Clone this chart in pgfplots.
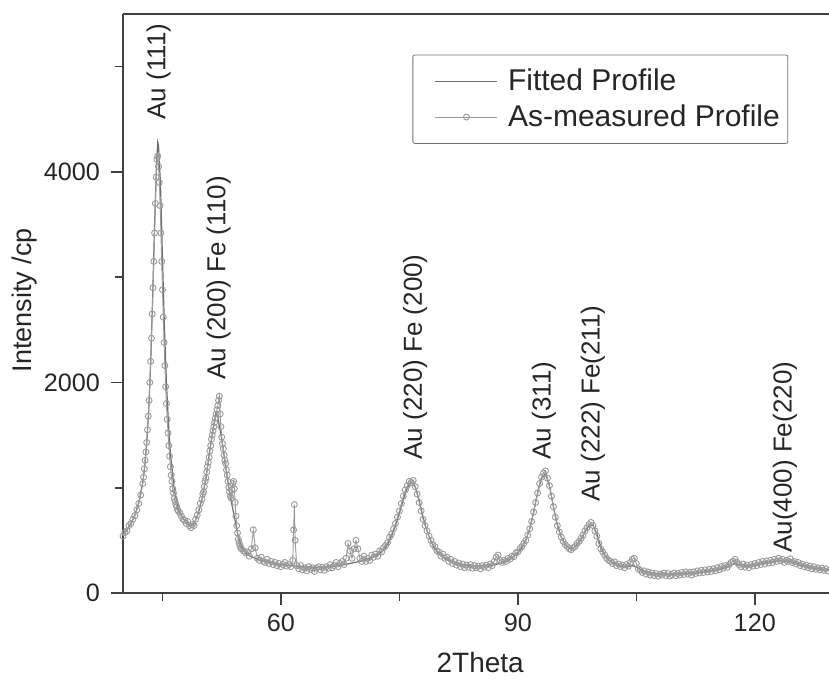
\documentclass[border=0pt]{standalone}
\usepackage{pgfplots}
\pgfplotsset{compat=1.18}
\usepackage{fontspec}
\setmainfont{Liberation Sans}
\definecolor{txt}{HTML}{262626}
\definecolor{meas}{HTML}{9A9A9A}
\definecolor{fitc}{HTML}{6E6E6E}
\begin{document}
\begin{tikzpicture}
\begin{axis}[name=ax,
  scale only axis, width=353pt, height=289.5pt,
  xmin=40, xmax=129.4, ymin=0, ymax=5500,
  axis x line*=box, axis y line*=left,
  axis line style={black!75, line width=0.8pt},
  xtick={60,90,120}, minor xtick={45,75,105},
  ytick={0,2000,4000}, minor ytick={1000,3000,5000},
  xtick pos=left, ytick pos=left,
  tick align=outside,
  major tick length=6pt, minor tick length=4pt,
  tick style={black!75, line width=0.8pt},
  /pgf/number format/assume math mode=true,
  /pgf/number format/1000 sep={},
  ticklabel style={font=\fontsize{12.6}{15}\selectfont, text=txt},
  xticklabel style={yshift=-1pt},
  yticklabel style={xshift=-2pt},
  every axis y label/.style={at={(axis description cs:-0.139,0.506)}, rotate=90, anchor=center, font=\fontsize{13.5}{16}\selectfont, text=txt},
  every axis x label/.style={at={(axis description cs:0.506,0)}, yshift=-34.5pt, anchor=center, font=\fontsize{14}{17}\selectfont, text=txt},
  xlabel={2Theta}, ylabel={Intensity /cp},
  legend cell align=left,
  legend style={at={(0.41,0.93)}, anchor=north west, draw=black!55, rounded corners=1pt,
    font=\fontsize{15}{18}\selectfont, text=txt, inner xsep=2pt, inner ysep=5pt, row sep=1.5pt},
  legend image code/.code={\path (0pt,0pt) (43pt,0pt); \draw[mark repeat=2,mark phase=2,#1] plot coordinates {(9pt,0pt) (24.5pt,0pt) (40pt,0pt)};},
]
% Fitted profile
\addplot[color=fitc, line width=0.6pt, mark=none] coordinates {
(40.0,560) (40.5,600) (41.0,660) (41.5,740) (42.0,860) (42.5,1050) (42.75,1200) (43.0,1420) (43.25,1720) (43.5,2170)
(43.75,2800) (44.0,3500) (44.25,4080) (44.4,4280) (44.5,4250) (44.75,3880) (45.0,3180) (45.25,2520) (45.5,2000) (45.75,1620)
(46.0,1330) (46.5,980) (47.0,800) (47.5,720) (48.0,670) (48.5,645) (49.0,660) (49.5,750) (50.0,890) (50.5,1090)
(51.0,1360) (51.5,1600) (51.75,1700) (52.0,1680) (52.5,1460) (53.0,1200) (53.5,950) (54.0,760) (54.5,570) (55.0,440)
(55.5,385) (56.0,355) (57.0,320) (58.0,300) (59.0,285) (60.0,272) (61.0,262) (62.0,255) (63.0,248) (64.0,245)
(65.0,245) (66.0,250) (67.0,258) (68.0,270) (69.0,285) (70.0,300) (71.0,320) (72.0,350) (73.0,410) (73.5,460)
(74.0,540) (74.5,640) (75.0,760) (75.5,890) (76.0,1000) (76.5,1050) (77.0,1010) (77.5,880) (78.0,720) (78.5,590)
(79.0,490) (79.5,420) (80.0,375) (81.0,320) (82.0,290) (83.0,270) (84.0,260) (85.0,255) (86.0,258) (87.0,268)
(88.0,285) (89.0,320) (90.0,380) (90.5,430) (91.0,500) (91.5,610) (92.0,770) (92.5,950) (93.0,1090) (93.5,1130)
(94.0,1020) (94.5,820) (95.0,650) (95.5,530) (96.0,460) (96.5,425) (97.0,425) (97.5,455) (98.0,510) (98.5,580)
(99.0,640) (99.5,650) (100.0,560) (100.5,440) (101.0,360) (101.5,315) (102.0,285) (103.0,255) (104.0,250) (104.5,260)
(105.0,245) (106.0,205) (107.0,190) (108.0,182) (109.0,180) (110.0,180) (111.0,183) (112.0,188) (113.0,195) (114.0,205)
(115.0,218) (116.0,235) (117.0,265) (117.5,280) (118.0,265) (119.0,255) (120.0,265) (121.0,280) (122.0,295) (123.0,305)
(124.0,305) (125.0,290) (126.0,265) (127.0,245) (128.0,230) (129.0,222) (129.4,218)
};
\addlegendentry{Fitted Profile}
% As-measured profile
\addplot[color=meas, line width=0.45pt, mark=o, mark size=1.5pt, mark options={solid, line width=0.45pt, color=meas}] coordinates {
(40.00,540) (40.25,575) (40.50,590) (40.75,640) (41.00,660) (41.25,700) (41.50,735) (41.75,790) (42.00,850) (42.25,930) (42.50,1040)
(42.6,1100) (42.7,1180) (42.8,1260) (42.9,1340) (43.0,1430) (43.1,1550) (43.2,1680) (43.3,1830) (43.4,2000) (43.5,2200)
(43.6,2420) (43.7,2650) (43.8,2900) (43.9,3150) (44.0,3420) (44.1,3700) (44.2,3950) (44.3,4120) (44.4,4150) (44.5,4050)
(44.6,3900) (44.7,3680) (44.8,3420) (44.9,3150) (45.0,2880) (45.1,2620) (45.2,2380) (45.3,2160) (45.4,1960) (45.5,1800)
(45.6,1650) (45.7,1520) (45.8,1400) (45.9,1300) (46.0,1200) (46.1,1120) (46.2,1060) (46.3,990) (46.4,950) (46.5,900)
(46.6,870) (46.7,840) (46.8,820) (46.9,790) (47.0,780)
(47.2,760) (47.4,730) (47.6,700) (47.8,690) (48.0,660) (48.2,680) (48.4,640) (48.6,620) (48.8,650) (49.0,640)
(49.2,700) (49.4,740) (49.6,790) (49.8,850) (50.0,890)
(50.1,940) (50.2,960) (50.3,1010) (50.4,1060) (50.5,1090) (50.6,1150) (50.7,1200) (50.8,1240) (50.9,1290) (51.0,1350)
(51.1,1400) (51.2,1460) (51.3,1500) (51.4,1540) (51.5,1580) (51.6,1620) (51.7,1660) (51.8,1700) (51.9,1740) (52.0,1780)
(52.1,1830) (52.2,1870) (52.3,1700) (52.4,1580) (52.5,1480) (52.6,1420) (52.7,1370) (52.8,1310) (52.9,1260) (53.0,1230)
(53.1,1170) (53.2,1120) (53.3,1060) (53.4,1000) (53.5,960) (53.6,920) (53.7,900) (53.8,980) (53.9,1040) (54.0,1060)
(54.1,990) (54.2,860) (54.3,730) (54.4,640) (54.5,570) (54.6,510) (54.7,480) (54.8,450) (54.9,430) (55.0,420)
(55.25,400) (55.50,380) (55.75,390) (56.00,350) (56.25,420) (56.50,600) (56.75,430) (57.00,330) (57.25,310) (57.50,340)
(57.75,300) (58.00,290) (58.25,320) (58.50,280) (58.75,300) (59.00,270) (59.25,290) (59.50,260) (59.75,280) (60.00,250)
(60.25,270) (60.50,290) (60.75,255) (61.00,270) (61.25,250) (61.50,310) (61.60,600) (61.70,840) (61.80,500) (62.00,260)
(62.25,230) (62.50,260) (62.75,220) (63.00,240) (63.25,210) (63.50,250) (63.75,225) (64.00,240) (64.25,205) (64.50,235)
(64.75,250) (65.00,220) (65.25,245) (65.50,215) (65.75,250) (66.00,235) (66.25,270) (66.50,240) (66.75,260) (67.00,290)
(67.25,250) (67.50,280) (67.75,300) (68.00,270) (68.25,330) (68.50,470) (68.75,400) (69.00,330) (69.25,420) (69.50,500)
(69.75,420) (70.00,330) (70.25,300) (70.50,350) (70.75,300) (71.00,330) (71.25,310) (71.50,360) (71.75,340) (72.00,370)
(72.25,350) (72.50,400) (72.75,390) (73.00,430) (73.25,450) (73.50,480) (73.75,530) (74.00,560) (74.25,610) (74.50,660)
(74.75,720) (75.00,780) (75.25,850) (75.50,920) (75.75,980) (76.00,1020) (76.25,1060) (76.50,1050) (76.75,1070) (77.00,1010)
(77.25,940) (77.50,860) (77.75,780) (78.00,700) (78.25,640) (78.50,590) (78.75,540) (79.00,500) (79.25,460) (79.50,440)
(79.75,400) (80.00,390) (80.25,350) (80.50,370) (80.75,330) (81.00,340) (81.25,300) (81.50,320) (81.75,280) (82.00,300)
(82.25,265) (82.50,285) (82.75,250) (83.00,275) (83.25,240) (83.50,265) (83.75,245) (84.00,270) (84.25,235) (84.50,260)
(84.75,240) (85.00,255) (85.25,230) (85.50,260) (85.75,245) (86.00,265) (86.25,240) (86.50,275) (86.75,260) (87.00,300)
(87.25,340) (87.50,360) (87.75,310) (88.00,290) (88.25,310) (88.50,300) (88.75,330) (89.00,320) (89.25,350) (89.50,345)
(89.75,380) (90.00,390) (90.25,420) (90.50,440) (90.75,470) (91.00,500) (91.25,550) (91.50,610) (91.75,680) (92.00,770)
(92.25,860) (92.50,950) (92.75,1040) (93.00,1100) (93.25,1140) (93.50,1160) (93.75,1090) (94.00,1020) (94.25,920) (94.50,820)
(94.75,720) (95.00,640) (95.25,580) (95.50,530) (95.75,490) (96.00,460) (96.25,440) (96.50,420) (96.75,410) (97.00,430)
(97.25,440) (97.50,470) (97.75,490) (98.00,520) (98.25,550) (98.50,590) (98.75,620) (99.00,650) (99.25,670) (99.50,640)
(99.75,590) (100.00,540) (100.25,470) (100.50,420) (100.75,390) (101.00,360) (101.25,330) (101.50,310) (101.75,300) (102.00,280)
(102.25,295) (102.50,260) (102.75,275) (103.00,250) (103.25,265) (103.50,240) (103.75,270) (104.00,255) (104.25,290) (104.50,320)
(104.75,330) (105.00,280) (105.25,230) (105.50,215) (105.75,195) (106.00,210) (106.25,180) (106.50,200) (106.75,170) (107.00,190)
(107.25,165) (107.50,185) (107.75,160) (108.00,180) (108.25,170) (108.50,190) (108.75,165) (109.00,185) (109.25,160) (109.50,175)
(109.75,190) (110.00,165) (110.25,185) (110.50,170) (110.75,195) (111.00,175) (111.25,200) (111.50,180) (111.75,195) (112.00,170)
(112.25,200) (112.50,185) (112.75,210) (113.00,190) (113.25,215) (113.50,195) (113.75,220) (114.00,200) (114.25,225) (114.50,205)
(114.75,230) (115.00,210) (115.25,240) (115.50,220) (115.75,250) (116.00,235) (116.25,260) (116.50,245) (116.75,270) (117.00,290)
(117.25,300) (117.50,320) (117.75,290) (118.00,270) (118.25,250) (118.50,275) (118.75,245) (119.00,265) (119.25,240) (119.50,270)
(119.75,255) (120.00,280) (120.25,260) (120.50,290) (120.75,270) (121.00,300) (121.25,275) (121.50,305) (121.75,285) (122.00,310)
(122.25,290) (122.50,320) (122.75,300) (123.00,330) (123.25,305) (123.50,320) (123.75,290) (124.00,310) (124.25,300) (124.50,325)
(124.75,290) (125.00,300) (125.25,275) (125.50,290) (125.75,260) (126.00,275) (126.25,250) (126.50,265) (126.75,240) (127.00,255)
(127.25,230) (127.50,250) (127.75,225) (128.00,240) (128.25,220) (128.50,235) (128.75,215) (129.00,230) (129.25,210)
};
\addlegendentry{As-measured Profile}
% peak annotations
\begin{scope}[every node/.style={rotate=90, anchor=west, inner sep=0pt, text=txt, font=\fontsize{13}{15}\selectfont}]
\node at (axis cs:44.5,4494) {Au (111)};
\node at (axis cs:52.1,2024) {Au (200) Fe (110)};
\node at (axis cs:77.0,1264) {Au (220) Fe (200)};
\node at (axis cs:93.3,1264) {Au (311)};
\node at (axis cs:99.5,865) {Au (222) Fe(211)};
\node at (axis cs:123.8,380) {Au(400) Fe(220)};
\end{scope}
\end{axis}
\pgfresetboundingbox
\path[use as bounding box] ([xshift=-61.5pt,yshift=-48pt]ax.south west) rectangle ([yshift=7pt]ax.north east);
\end{tikzpicture}
\end{document}
